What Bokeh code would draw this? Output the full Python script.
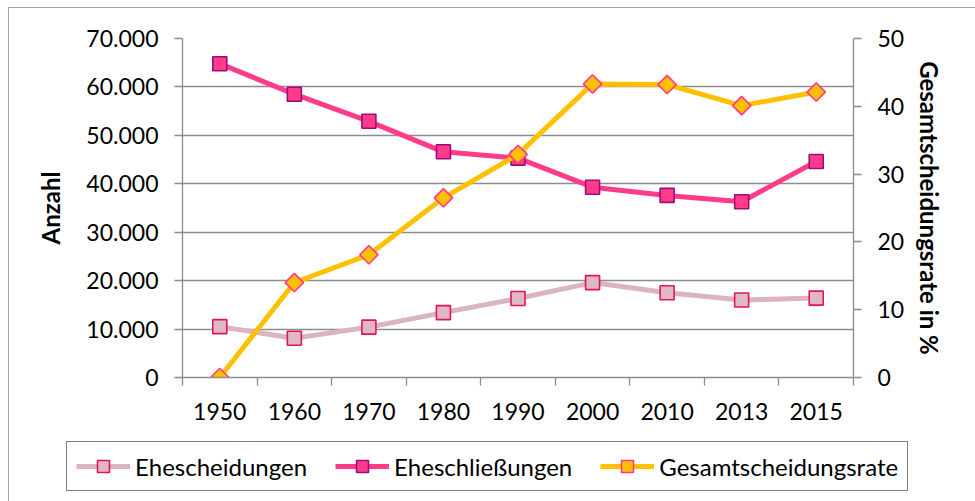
import math
from bokeh.plotting import figure
from bokeh.layouts import column
from bokeh.models import (LinearAxis, Range1d, FixedTicker, Legend, LegendItem)
from bokeh.embed import file_html
from bokeh.resources import INLINE

# ---- data ----
years = ["1950", "1960", "1970", "1980", "1990", "2000", "2010", "2013", "2015"]
ehescheidungen = [10500, 8100, 10400, 13400, 16300, 19600, 17500, 16000, 16400]
eheschliessungen = [64800, 58500, 52900, 46600, 45300, 39300, 37600, 36300, 44600]
gesamtscheidungsrate = [0.0, 14.0, 18.1, 26.5, 32.9, 43.3, 43.2, 40.1, 42.1]
left_ticks = [0, 10000, 20000, 30000, 40000, 50000, 60000, 70000]
left_tick_labels = ["0", "10.000", "20.000", "30.000", "40.000", "50.000", "60.000", "70.000"]
right_ticks = [0, 10, 20, 30, 40, 50]
series_names = ["Ehescheidungen", "Eheschließungen", "Gesamtscheidungsrate"]

FONT = "Lato"
GRID = "#8c8c8c"

# styles per series: (line colour, marker, marker size, angle, fill, marker outline)
STY = [
    ("#dbb4bd", "square", 14, 0.0, "#dfb9c1", "#e5125e"),
    ("#ff3b8a", "square", 14, 0.0, "#ff3b8a", "#9a0c7f"),
    ("#ffc000", "square", 13, math.pi / 4, "#ffc000", "#ff3b8a"),
]

xpos = [i + 0.5 for i in range(len(years))]
all_values = [ehescheidungen, eheschliessungen, gesamtscheidungsrate]

OX, OY = 9, 8          # page offset of the chart's outer border
W = 975 - OX
MAIN_H = 436 - OY
p = figure(width=W, height=MAIN_H, output_backend="svg", toolbar_location=None,
           x_range=Range1d(0, len(years)), y_range=Range1d(0, 70000),
           min_border_left=182 - OX, min_border_right=122, min_border_top=38 - OY,
           min_border_bottom=436 - 377)
p.outline_line_color = None
p.background_fill_color = "white"
p.border_fill_color = "white"

p.extra_y_ranges = {"rate": Range1d(0, 50)}

# x axis: labels at category centres, tick marks at category boundaries
xa = p.xaxis[0]
xa.ticker = FixedTicker(ticks=xpos, minor_ticks=list(range(len(years) + 1)))
xa.major_label_overrides = {x: y for x, y in zip(xpos, years)}
xa.major_tick_line_color = None
xa.major_tick_out = 0
xa.major_tick_in = 0
xa.minor_tick_line_color = GRID
xa.minor_tick_line_width = 1.3
xa.minor_tick_out = 8
xa.minor_tick_in = 0
xa.axis_line_color = GRID
xa.axis_line_width = 1.3
xa.major_label_text_font = FONT
xa.major_label_text_font_size = "23px"
xa.major_label_text_color = "black"
xa.major_label_standoff = 17

ya = p.yaxis[0]
ya.ticker = FixedTicker(ticks=left_ticks)
ya.major_label_overrides = {t: l for t, l in zip(left_ticks, left_tick_labels)}
ya.minor_tick_line_color = None
ya.major_tick_line_color = GRID
ya.major_tick_line_width = 1.3
ya.major_tick_out = 8
ya.major_tick_in = 0
ya.axis_line_color = GRID
ya.axis_line_width = 1.3
ya.major_label_text_font = FONT
ya.major_label_text_font_size = "23px"
ya.major_label_text_color = "black"
ya.major_label_standoff = 16
ya.axis_label = "Anzahl"
ya.axis_label_text_font = FONT
ya.axis_label_text_font_style = "bold"
ya.axis_label_text_font_size = "24px"
ya.axis_label_text_color = "black"
ya.axis_label_standoff = 18

ra = LinearAxis(y_range_name="rate", ticker=FixedTicker(ticks=right_ticks))
ra.minor_tick_line_color = None
ra.major_tick_line_color = GRID
ra.major_tick_line_width = 1.3
ra.major_tick_out = 8
ra.major_tick_in = 0
ra.axis_line_color = GRID
ra.axis_line_width = 1.3
ra.major_label_text_font = FONT
ra.major_label_text_font_size = "23px"
ra.major_label_text_color = "black"
ra.major_label_standoff = 16
ra.axis_label = "Gesamtscheidungsrate in %"
ra.axis_label_text_font = FONT
ra.axis_label_text_font_style = "bold"
ra.axis_label_text_font_size = "24px"
ra.axis_label_text_color = "black"
ra.axis_label_standoff = 8
p.add_layout(ra, "right")

p.xgrid.grid_line_color = None
p.ygrid.grid_line_color = GRID
p.ygrid.grid_line_width = 1.3
p.ygrid.ticker = FixedTicker(ticks=left_ticks)

# series
for vals, (lc, mk, ms, ang, fc, oc), i in zip(all_values, STY, range(3)):
    kw = {"y_range_name": "rate"} if i == 2 else {}
    p.line(xpos, vals, line_color=lc, line_width=5, **kw)
    p.scatter(xpos, vals, marker=mk, size=ms, angle=ang, fill_color=fc,
              line_color=oc, line_width=1.6, **kw)

# legend strip below (separate plot so the legend is not clipped by the chart frame)
LEG_H = 501 - 436
q = figure(width=W, height=LEG_H, output_backend="svg", toolbar_location=None,
           x_range=Range1d(100, 101), y_range=Range1d(0, 70000),
           min_border_left=0, min_border_right=0, min_border_top=0, min_border_bottom=0)
if "frame_align" in q.properties():
    q.frame_align = False
    p.frame_align = False
q.axis.visible = False
q.grid.grid_line_color = None
q.outline_line_color = None
q.background_fill_color = "white"
q.border_fill_color = "white"

items = []
for name, vals, (lc, mk, ms, ang, fc, oc) in zip(series_names, all_values, STY):
    # proxies carrying the real series (outside this strip's visible range)
    r1 = q.line(xpos, vals, line_color=lc, line_width=5)
    r2 = q.scatter(xpos, vals, marker=mk, size=ms, angle=ang, fill_color=fc,
                   line_color=oc, line_width=1.6)
    items.append(LegendItem(label=name, renderers=[r1, r2]))

legend = Legend(items=items, orientation="horizontal", location=(66 - OX, 10))
legend.label_text_font = FONT
legend.label_text_font_size = "24px"
legend.label_text_color = "black"
legend.glyph_width = 54
legend.glyph_height = 30
legend.label_standoff = 5
legend.spacing = 28
legend.padding = 9
legend.margin = 0
legend.border_line_color = "black"
legend.border_line_width = 1.5
legend.background_fill_color = "white"
legend.background_fill_alpha = 1
q.add_layout(legend, "center")

layout = column(p, q, spacing=0)
layout.styles = {"margin-left": f"{OX - 1}px", "margin-top": f"{OY - 1}px",
                 "border-left": "1px solid #a6a6a6", "border-top": "1px solid #a6a6a6"}
open("out.html", "w").write(file_html(layout, INLINE))
